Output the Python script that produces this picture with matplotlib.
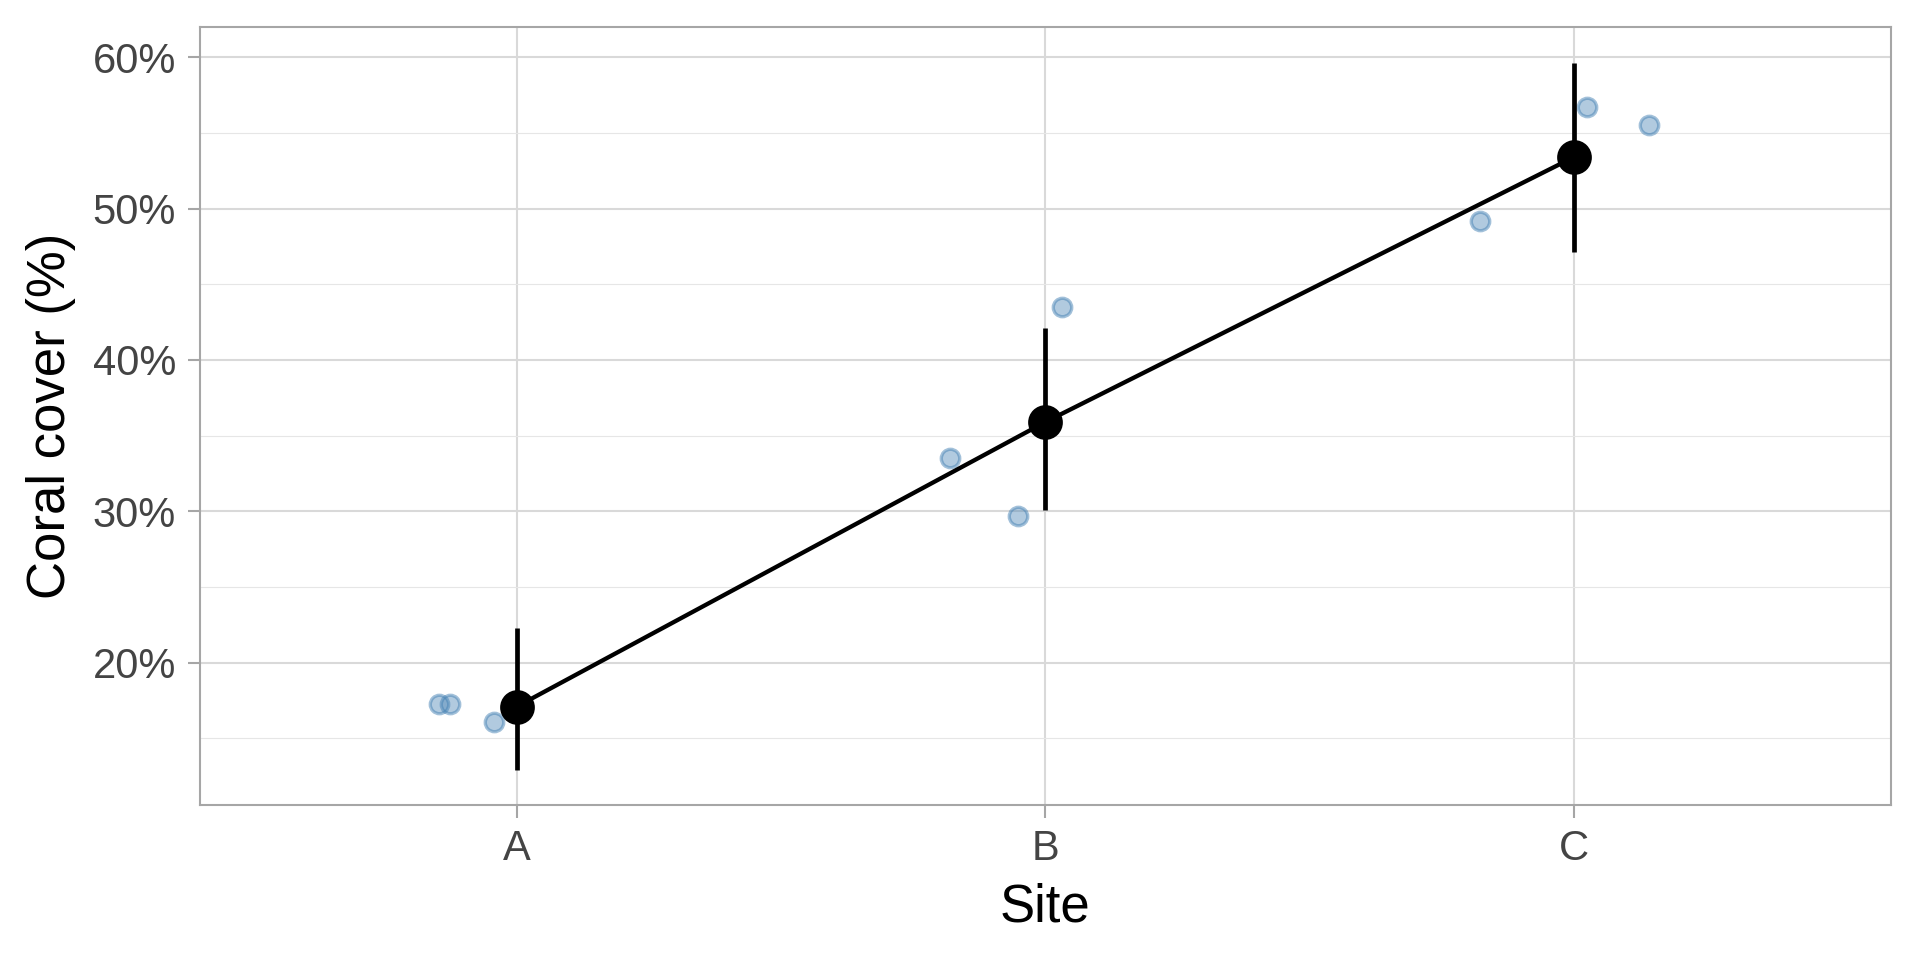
import matplotlib
matplotlib.use("Agg")
import matplotlib.pyplot as plt
from matplotlib.ticker import FuncFormatter, MultipleLocator

plt.rcParams['font.family'] = ['Liberation Sans', 'DejaVu Sans']

# summary per site (mean and interval), in %
sites = ['A', 'B', 'C']
mean_cover = [17.1, 35.9, 53.4]
ci_low = [12.9, 30.1, 47.1]
ci_high = [22.3, 42.1, 59.6]

# raw observations (jittered x offset, cover %)
obs_site = [0, 0, 0, 1, 1, 1, 2, 2, 2]
obs_jitter = [-0.148, -0.127, -0.044, -0.181, -0.051, 0.032, -0.178, 0.025, 0.141]
obs_cover = [17.3, 17.3, 16.05, 33.5, 29.7, 43.5, 49.2, 56.7, 55.5]

fig = plt.figure(figsize=(9.6, 4.8), dpi=200)
ax = fig.add_axes([0.104, 0.1615, 0.881, 0.8105])

xpos = list(range(len(sites)))

# raw points
ax.scatter([obs_site[i] + obs_jitter[i] for i in range(len(obs_cover))], obs_cover,
           s=44, facecolor=(70/255, 130/255, 180/255, 0.42),
           edgecolor=(70/255, 130/255, 180/255, 0.5), linewidth=1.2, zorder=3)

# mean line + interval
ax.plot(xpos, mean_cover, color='black', lw=1.55, zorder=4)
ax.vlines(xpos, ci_low, ci_high, color='black', lw=1.7, zorder=4)
ax.plot(xpos, mean_cover, 'o', color='black', ms=11.5, zorder=5)

ax.set_xlim(-0.6, 2.6)
ax.set_ylim(10.6, 62.0)
ax.set_xticks(xpos)
ax.set_xticklabels(sites)
ax.yaxis.set_major_locator(MultipleLocator(10))
ax.yaxis.set_minor_locator(MultipleLocator(5))
ax.yaxis.set_major_formatter(FuncFormatter(lambda v, p: f"{v:.0f}%"))

ax.grid(which='major', color='#D9D9D9', lw=0.75)
ax.grid(which='minor', axis='y', color='#E6E6E6', lw=0.4)
ax.set_axisbelow(True)
for s in ax.spines.values():
    s.set_color('#A6A6A6')
    s.set_linewidth(0.75)

ax.tick_params(which='major', length=4.5, width=0.75, color='#A6A6A6',
               labelsize=15, labelcolor='#444444', pad=4)
ax.tick_params(which='minor', length=0)

ax.set_xlabel('Site', fontsize=19, labelpad=5)
ax.set_ylabel('Coral cover (%)', fontsize=19, labelpad=6)

fig.savefig('out.png', dpi=200, facecolor='white')
